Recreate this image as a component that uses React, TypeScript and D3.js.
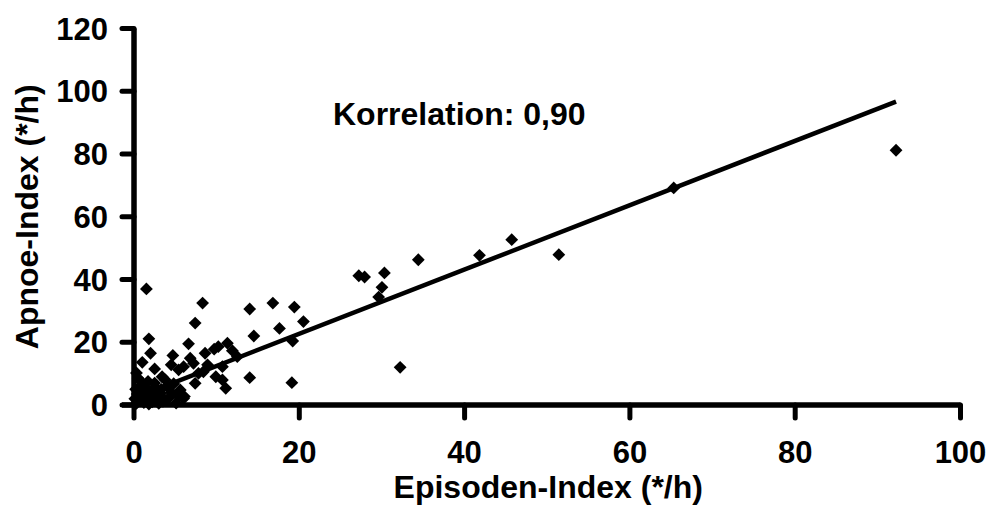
import React from "react";
import * as d3 from "d3";

const episodenIndex: number[] = [
  92.2, 65.3, 51.4, 45.7, 41.8, 34.4, 30.3, 27.2, 27.9, 30.0, 29.6, 32.2,
  20.5, 19.4, 16.8, 14.0, 17.6, 14.5, 19.2, 14.0, 19.1, 8.3, 7.4, 1.5,
  1.8, 2.0, 1.0, 2.5, 4.7, 4.5, 3.4, 5.4, 0.9, 6.6, 9.7, 10.2, 11.3, 11.9,
  8.6, 12.5, 6.8, 7.2, 6.0, 8.9, 10.7, 7.8, 8.4, 9.9, 7.4, 10.7, 11.1,
  6.0, 5.6, 6.1, 4.2, 5.4,
  0.3, 0.5, 0.8, 1.2, 1.5, 2.0, 2.2, 2.8, 3.0, 3.3, 3.6, 4.0, 4.5, 0.2,
  0.5, 1.2, 2.5, 3.8, 0.4, 1.8, 2.6, 3.2, 4.8, 5.1, 0.1, 1.0,
  0.6, 1.4, 2.3, 3.5, 0.9, 1.7, 2.9, 0.3, 1.1, 2.1,
];
const apnoeIndex: number[] = [
  81.2, 69.2, 47.9, 52.7, 47.7, 46.3, 42.1, 41.2, 40.8, 37.5, 34.4, 12.0,
  26.6, 31.2, 32.5, 30.6, 24.4, 22.0, 20.4, 8.7, 7.1, 32.5, 26.1, 37.0,
  21.1, 16.5, 13.6, 11.5, 15.8, 12.8, 9.0, 11.2, 7.4, 19.5, 17.8, 18.6,
  19.7, 17.3, 16.5, 15.4, 14.9, 13.3, 12.2, 12.8, 12.2, 10.1, 10.6, 9.0,
  6.9, 8.0, 5.3, 2.1, 4.8, 2.7, 2.2, 2.7,
  0.5, 1.5, 3.0, 0.8, 2.5, 4.0, 1.0, 3.0, 0.5, 5.0, 2.0, 6.0, 4.0, 5.0,
  8.5, 6.0, 7.0, 8.0, 3.5, 0.3, 5.5, 3.8, 6.8, 0.6, 2.0, 4.5,
  2.2, 4.8, 5.2, 1.2, 6.2, 7.5, 1.8, 10.2, 1.3, 3.2,
];

const xTicks: number[] = [0, 20, 40, 60, 80, 100];
const yTicks: number[] = [0, 20, 40, 60, 80, 100, 120];

const trendSlope = 1.025;
const trendIntercept = 2.2;

const correlationLabel = "Korrelation: 0,90";
const xTitle = "Episoden-Index (*/h)";
const yTitle = "Apnoe-Index (*/h)";

export default function App() {
  const W = 989;
  const H = 525;
  const left = 134;
  const right = 960.5;
  const top = 28.5;
  const bottom = 405;

  const x = d3.scaleLinear().domain([0, 100]).range([left, right]);
  const y = d3.scaleLinear().domain([0, 120]).range([bottom, top]);

  const pts = episodenIndex.map((v, i) => [v, apnoeIndex[i]] as [number, number]);
  const xMax = d3.max(episodenIndex) ?? 100;
  const trend = d3.line<number>()
    .x((d) => x(d))
    .y((d) => y(trendIntercept + trendSlope * d))([0, xMax]);

  const r = 6.4;
  const diamond = `M0,${-r}L${r},0L0,${r}L${-r},0Z`;
  const font = "'Liberation Sans', Arial, sans-serif";

  return (
    <svg width={W} height={H} style={{ position: "absolute", left: 0, top: 0, background: "#fff" }}>
      <rect width={W} height={H} fill="#fff" />
      {/* points */}
      {pts.map((p, i) => (
        <path key={i} d={diamond} transform={`translate(${x(p[0])},${y(p[1])})`} fill="#000" />
      ))}
      {/* trend line */}
      <path d={trend ?? ""} fill="none" stroke="#000" strokeWidth={4.5} />
      {/* axes */}
      <line x1={left} x2={left} y1={top} y2={bottom} stroke="#000" strokeWidth={5.5} />
      <line x1={left - 12} x2={right} y1={bottom} y2={bottom} stroke="#000" strokeWidth={5.5} />
      {yTicks.map((t) => (
        <g key={"y" + t}>
          <line x1={left - 12} x2={left} y1={y(t)} y2={y(t)} stroke="#000" strokeWidth={5} strokeLinecap="round" />
          <text x={108} y={y(t)} dy="0.36em" textAnchor="end" fontFamily={font} fontWeight="bold" fontSize={31}>
            {t}
          </text>
        </g>
      ))}
      {xTicks.map((t) => (
        <g key={"x" + t}>
          <line x1={x(t)} x2={x(t)} y1={bottom} y2={bottom + 13} stroke="#000" strokeWidth={5} strokeLinecap="round" />
          <text x={x(t)} y={463} textAnchor="middle" fontFamily={font} fontWeight="bold" fontSize={31}>
            {t}
          </text>
        </g>
      ))}
      <text x={333} y={125} fontFamily={font} fontWeight="bold" fontSize={32}>
        {correlationLabel}
      </text>
      <text x={(left + right) / 2 + 1} y={498} textAnchor="middle" fontFamily={font} fontWeight="bold" fontSize={32}>
        {xTitle}
      </text>
      <text
        transform={`translate(38,${(top + bottom) / 2}) rotate(-90)`}
        textAnchor="middle"
        fontFamily={font}
        fontWeight="bold"
        fontSize={32}
      >
        {yTitle}
      </text>
    </svg>
  );
}
